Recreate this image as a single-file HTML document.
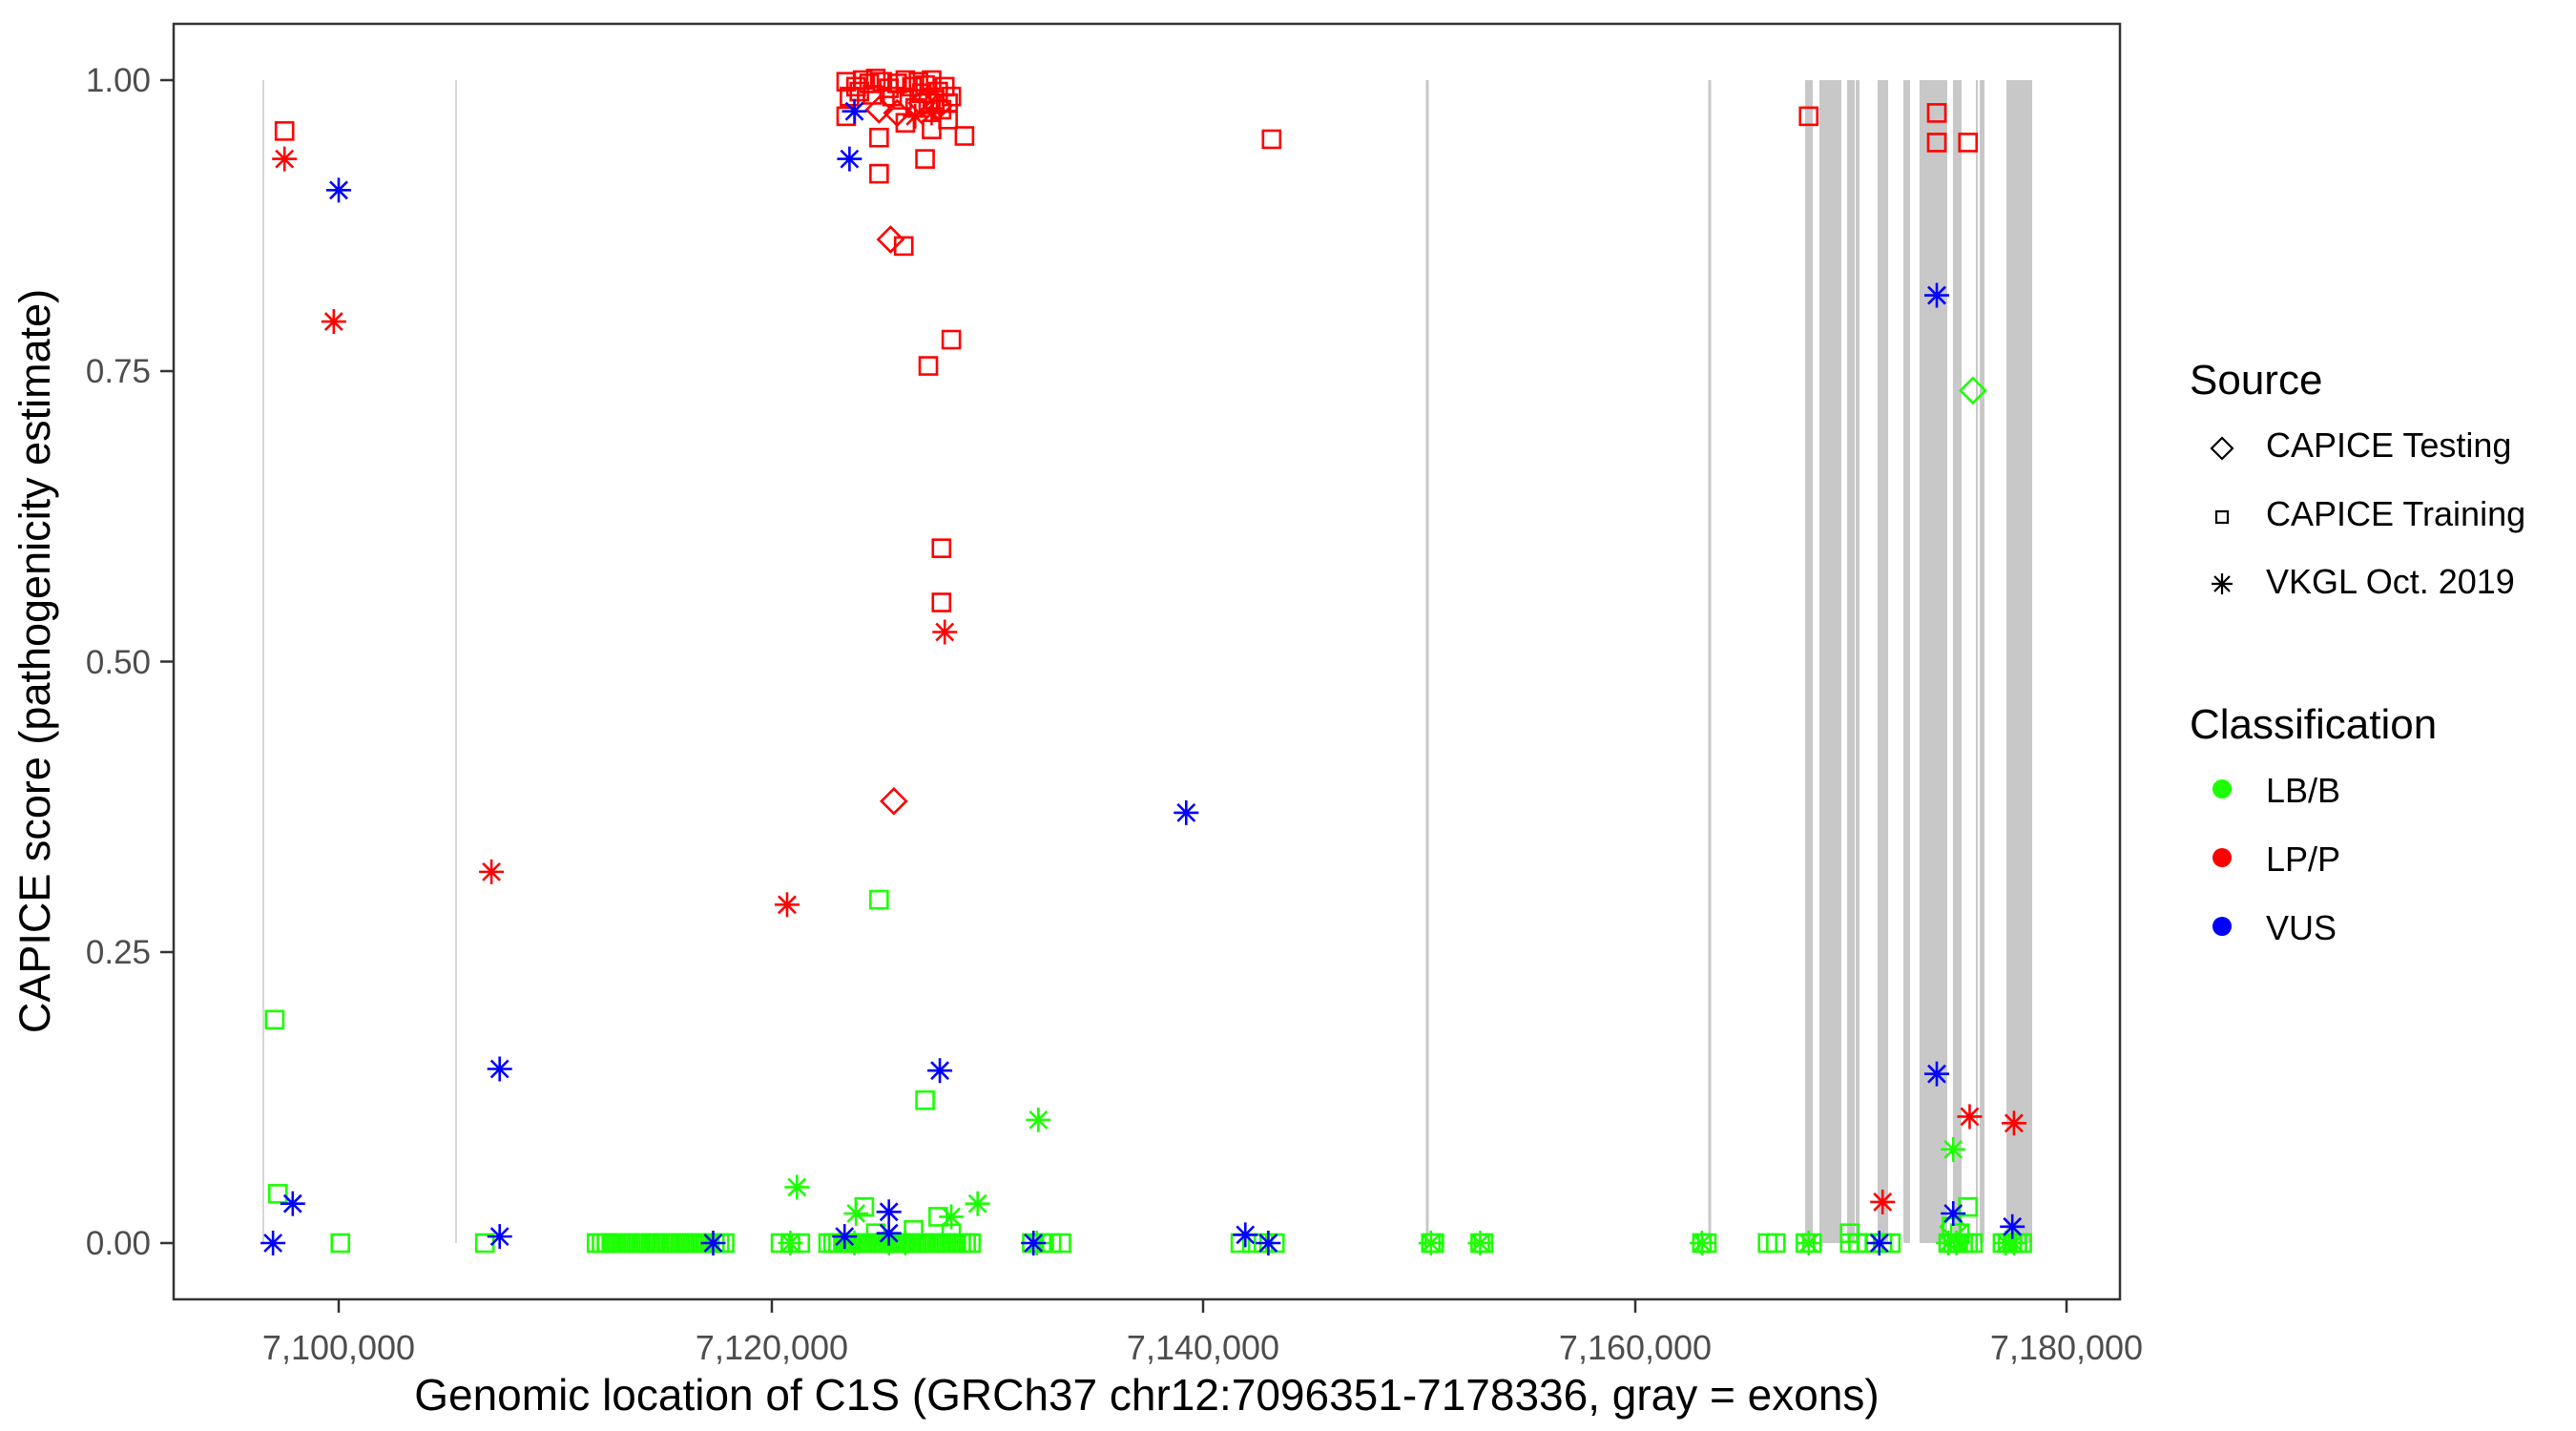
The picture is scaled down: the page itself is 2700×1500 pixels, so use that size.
<!DOCTYPE html>
<html><head><meta charset="utf-8">
<style>
html,body{margin:0;padding:0;background:#fff;}
svg{display:block;}
text{font-family:"Liberation Sans",Arial,sans-serif;}
</style></head>
<body>
<svg id="s" xmlns="http://www.w3.org/2000/svg" width="2700" height="1500" viewBox="0 0 2700 1500">
<rect x="0" y="0" width="2700" height="1500" fill="#fff"/>
<g id="bg"></g>
<g id="pts"></g>
<rect x="182" y="25" width="2040" height="1337" fill="none" stroke="#333" stroke-width="2.5"/>
<g stroke="#333" stroke-width="2.5">
<line x1="168" y1="84" x2="182" y2="84"/><line x1="168" y1="389" x2="182" y2="389"/>
<line x1="168" y1="693.5" x2="182" y2="693.5"/><line x1="168" y1="998" x2="182" y2="998"/>
<line x1="168" y1="1303" x2="182" y2="1303"/>
<line x1="355" y1="1362" x2="355" y2="1376"/><line x1="809" y1="1362" x2="809" y2="1376"/>
<line x1="1261" y1="1362" x2="1261" y2="1376"/><line x1="1714" y1="1362" x2="1714" y2="1376"/>
<line x1="2166" y1="1362" x2="2166" y2="1376"/>
</g>
<g font-size="35" fill="#4d4d4d" text-anchor="end">
<text x="158" y="96">1.00</text><text x="158" y="401">0.75</text><text x="158" y="706">0.50</text>
<text x="158" y="1010">0.25</text><text x="158" y="1315">0.00</text>
</g>
<g font-size="36" fill="#4d4d4d" text-anchor="middle">
<text x="355" y="1425">7,100,000</text><text x="809" y="1425">7,120,000</text>
<text x="1261" y="1425">7,140,000</text><text x="1714" y="1425">7,160,000</text>
<text x="2166" y="1425">7,180,000</text>
</g>
<text x="1202" y="1478" font-size="46" text-anchor="middle" fill="#000">Genomic location of C1S (GRCh37 chr12:7096351-7178336, gray = exons)</text>
<text transform="translate(52,693) rotate(-90)" font-size="45" text-anchor="middle" fill="#000">CAPICE score (pathogenicity estimate)</text>
<g fill="#000">
<text x="2295" y="413" font-size="44">Source</text>
<text x="2375" y="479" font-size="36">CAPICE Testing</text>
<text x="2375" y="551" font-size="36">CAPICE Training</text>
<text x="2375" y="622" font-size="36">VKGL Oct. 2019</text>
<text x="2295" y="774" font-size="44">Classification</text>
<text x="2375" y="841" font-size="36">LB/B</text>
<text x="2375" y="913" font-size="36">LP/P</text>
<text x="2375" y="985" font-size="36">VUS</text>
</g>
<g stroke="#000" stroke-width="2.2" fill="none">
<polygon points="2329,459 2340,470 2329,481 2318,470"/>
<rect x="2323" y="536" width="12" height="12"/>
<g transform="translate(2329,612)"><line x1="-11" y1="0" x2="11" y2="0"/><line x1="0" y1="-11" x2="0" y2="11"/><line x1="-8" y1="-8" x2="8" y2="8"/><line x1="-8" y1="8" x2="8" y2="-8"/></g>
</g>
<circle cx="2329" cy="827" r="10" fill="#1bff00"/>
<circle cx="2329" cy="899" r="10" fill="#ff0000"/>
<circle cx="2329" cy="971" r="10" fill="#0000ff"/>
</svg>
<script>
(function(){
var NS="http://www.w3.org/2000/svg";
var bg=document.getElementById('bg'), P=document.getElementById('pts');
function el(tag,a,par){var e=document.createElementNS(NS,tag);for(var k in a)e.setAttribute(k,a[k]);par.appendChild(e);return e;}
var bars=[[1892,1900],[1907,1930],[1936,1944],[1945,1949],[1968,1979],[1995,2002],[2012,2041],[2047,2056],[2071,2073],[2075,2080],[2103,2130]];
bars.forEach(function(b){el('rect',{x:b[0],y:84,width:b[1]-b[0],height:1219,fill:'#c8c8c8'},bg);});
[[276,1.5],[478,1.5],[1496,3],[1792,3]].forEach(function(l){el('rect',{x:l[0]-l[1]/2,y:84,width:l[1],height:1219,fill:'#c8c8c8'},bg);});
function X(d){return 355+(d-205)*1.7215;}
function Y(d){return 1303-(756-d)*1.7218;}
var G='#1bff00',R='#ff0000',B='#0000ff';
function sq(x,y,c){el('rect',{x:X(x)-9,y:Y(y)-9,width:18,height:18,fill:'none',stroke:c,'stroke-width':2.6},P);}
function di(x,y,c){var cx=X(x),cy=Y(y);el('polygon',{points:(cx)+','+(cy-13)+' '+(cx+13)+','+cy+' '+cx+','+(cy+13)+' '+(cx-13)+','+cy,fill:'none',stroke:c,'stroke-width':2.6},P);}
function st(x,y,c){var cx=X(x),cy=Y(y),g=el('g',{stroke:c,'stroke-width':2.6,transform:'translate('+cx+','+cy+')'},P);
el('line',{x1:-13,y1:0,x2:13,y2:0},g);el('line',{x1:0,y1:-13,x2:0,y2:13},g);el('line',{x1:-9,y1:-9,x2:9,y2:9},g);el('line',{x1:-9,y1:9,x2:9,y2:-9},g);}
var ranges=[[362,440,3],[474,486,6],[503,592,3],[627,645,6],[754,775,7],[870,872,2],[900,902,2],[1035,1038,3],[1075,1080,5],[1098,1102,4],[1125,1150,5],[1185,1200,3],[1218,1232,3]];
ranges.forEach(function(r){for(var x=r[0];x<=r[1];x+=r[2])sq(x,756,G);});
[[166,620],[168,726],[206,756],[294,756],[534,547],[562,669],[525,734],[570,740],[578,750],[532,750],[555,748],[1125,750],[1197,734],[1130,756],[1192,750],[1187,746]].forEach(function(p){sq(p[0],p[1],G);});
[[484,722],[520,738],[519,756],[578,740],[594,732],[631,681],[1188,699],[1185,756],[1100,756],[870,756],[900,756],[1035,756],[480,756],[1225,756],[1220,756],[630,756],[540,756],[550,756],[1190,756]].forEach(function(p){st(p[0],p[1],G);});
di(1200,237,G);di(1188,746,G);
[[172,79],[514,49],[520,52],[524,48],[528,50],[532,47],[536,49],[540,53],[545,50],[550,48],[554,52],[558,49],[562,51],[566,48],[570,55],[574,52],[578,58],[548,60],[556,65],[564,62],[572,66],[576,62],[516,58],[522,55],[530,57],[542,58],[560,56],[568,60],[514,70],[534,83],[586,82],[534,105],[562,96],[550,74],[549,149],[564,222],[578,206],[572,333],[572,366],[773,84],[1100,70],[1178,68],[1178,86],[1197,86],[566,78],[576,72]].forEach(function(p){sq(p[0],p[1],R);});
di(541,145,R);di(543,487,R);di(534,66,R);di(545,68,R);di(560,62,R);di(570,64,R);
[[172,96],[202,195],[298,530],[478,550],[574,384],[1145,731],[1198,679],[1225,683],[556,70],[566,68]].forEach(function(p){st(p[0],p[1],R);});
[[165,756],[177,732],[205,115],[303,650],[303,752],[433,756],[513,752],[516,96],[519,67],[540,737],[540,750],[571,651],[628,756],[721,494],[757,751],[771,756],[1143,756],[1178,179],[1178,653],[1188,738],[1224,746]].forEach(function(p){st(p[0],p[1],B);});
})();
</script>
</body></html>
